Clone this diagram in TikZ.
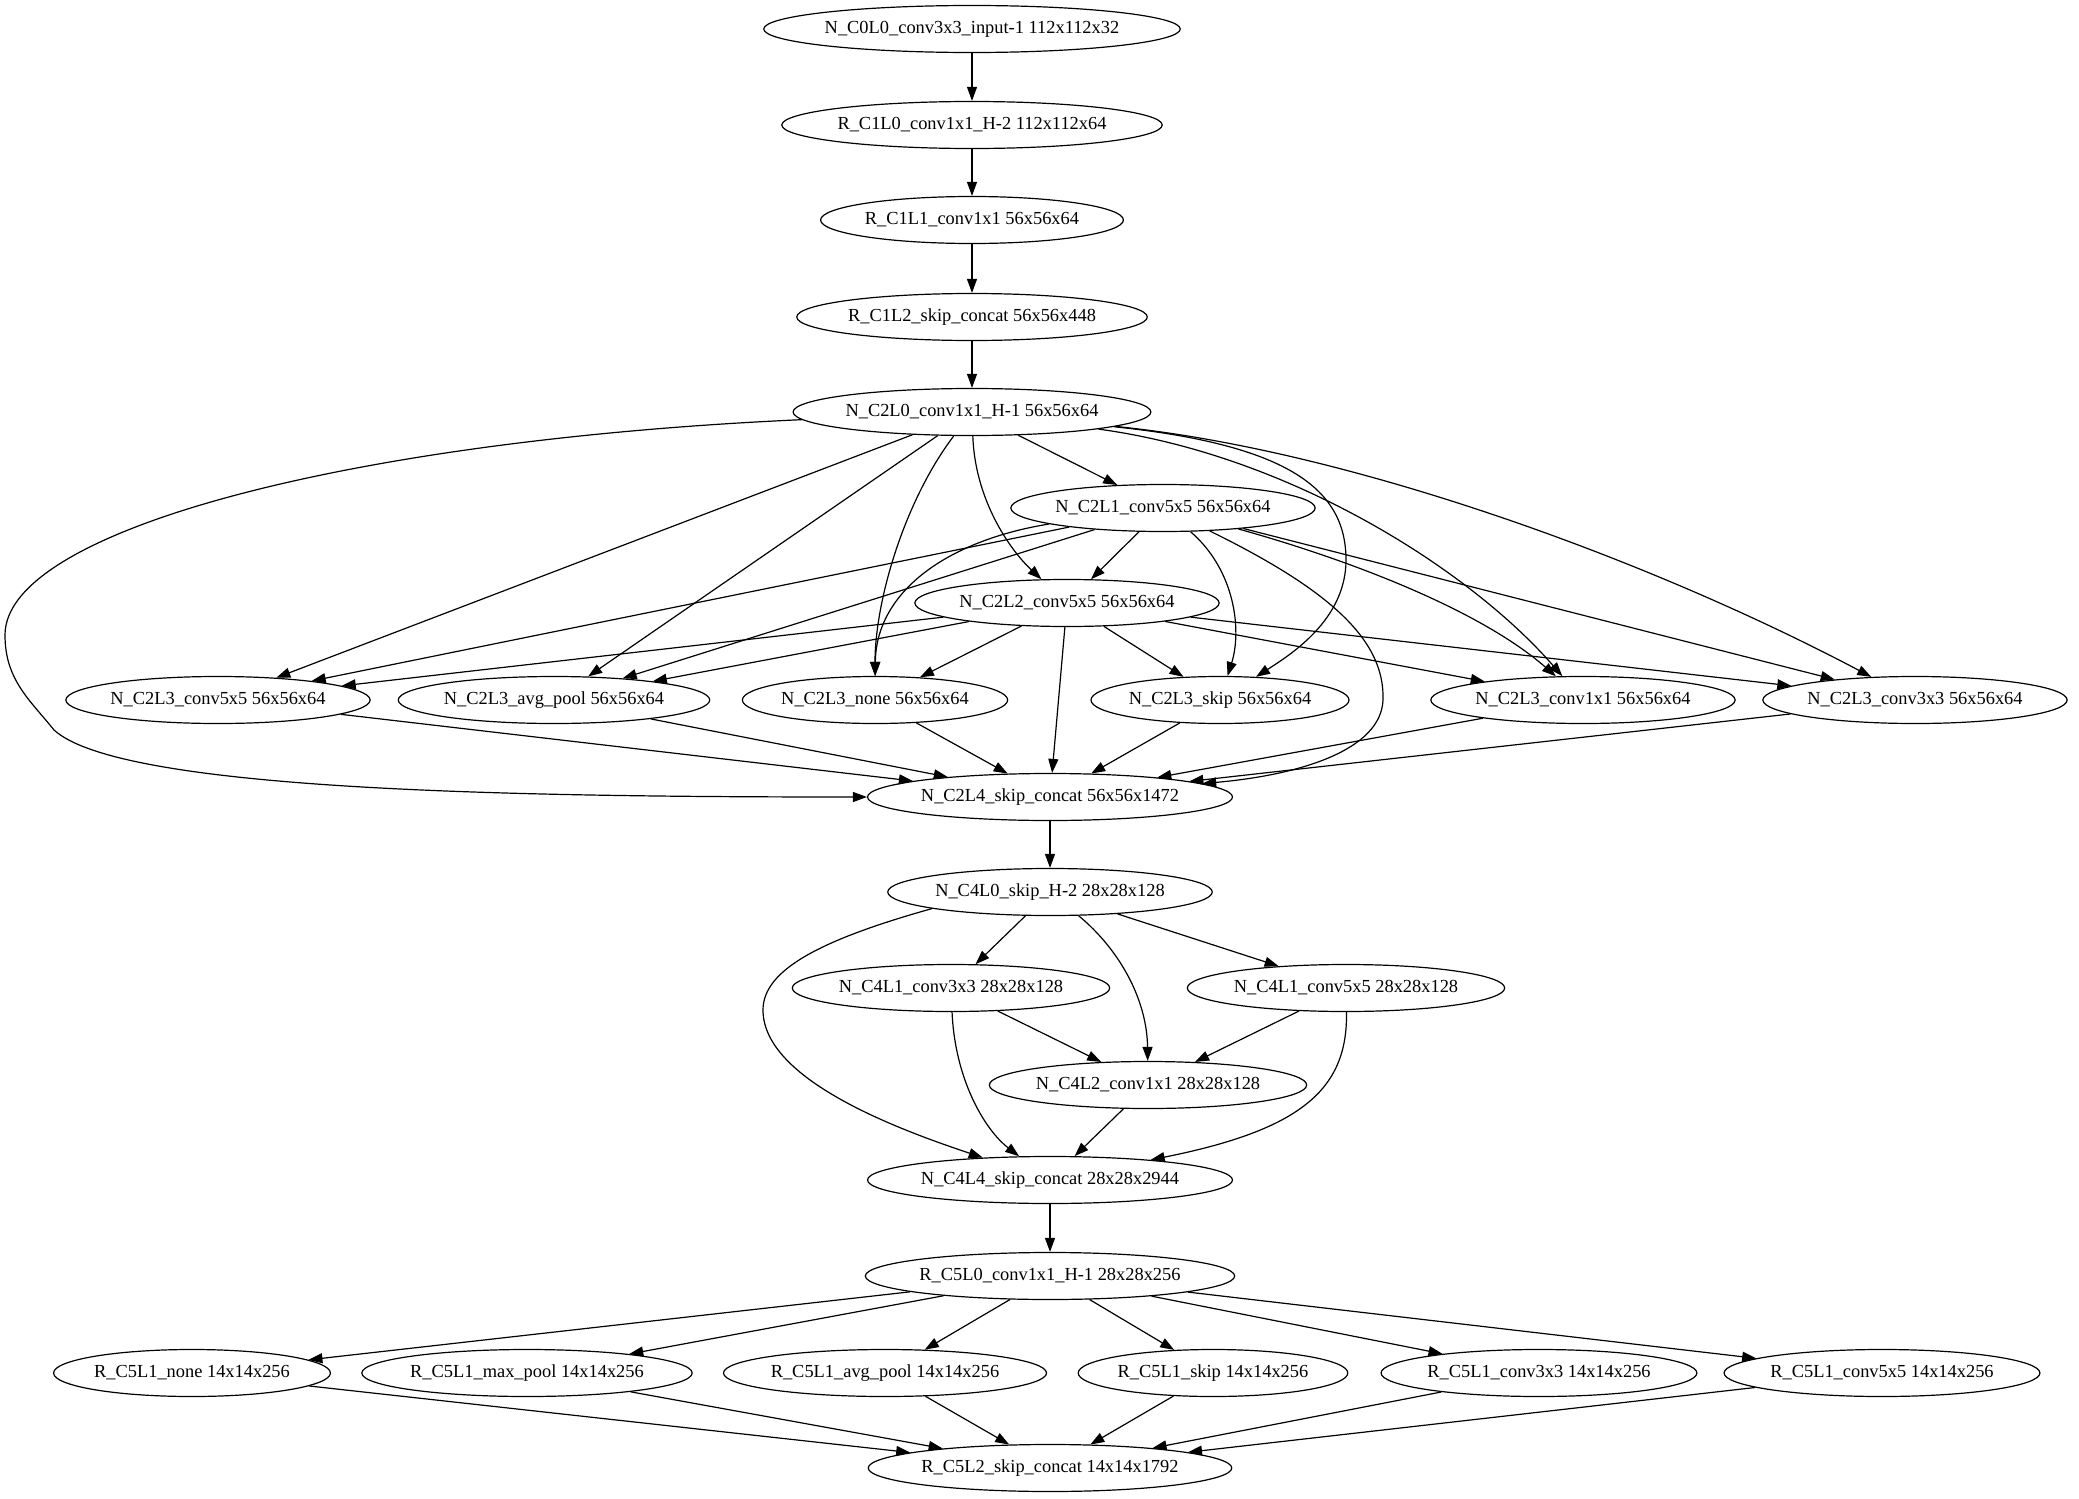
\documentclass[tikz,border=0pt]{standalone}
\usepackage{fontspec}
\setmainfont{Liberation Serif}
\usetikzlibrary{arrows.meta,shapes.geometric}
\tikzset{
  nd/.style={draw, ellipse, line width=0.6pt, inner xsep=0pt, inner ysep=1pt,
             minimum height=23.5pt, font=\fontsize{9.2}{11}\selectfont},
  edge/.style={draw, line width=0.6pt, -{Triangle[length=7pt,width=5pt]}}
}
\begin{document}
\begin{tikzpicture}[x=0.5pt,y=-0.5pt]
\useasboundingbox (0,0) rectangle (2079,1499);
\node[nd] (n1) at (972,29) {N\_C0L0\_conv3x3\_input-1 112x112x32};
\node[nd] (n2) at (972,125) {R\_C1L0\_conv1x1\_H-2 112x112x64};
\node[nd] (n3) at (972,220) {R\_C1L1\_conv1x1 56x56x64};
\node[nd] (n4) at (972,317) {R\_C1L2\_skip\_concat 56x56x448};
\node[nd] (n5) at (972,412) {N\_C2L0\_conv1x1\_H-1 56x56x64};
\node[nd] (n6) at (1163,508) {N\_C2L1\_conv5x5 56x56x64};
\node[nd] (n7) at (1067,603) {N\_C2L2\_conv5x5 56x56x64};
\node[nd] (n8) at (218,700) {N\_C2L3\_conv5x5 56x56x64};
\node[nd] (n9) at (554,700) {N\_C2L3\_avg\_pool 56x56x64};
\node[nd] (n10) at (875,700) {N\_C2L3\_none 56x56x64};
\node[nd] (n11) at (1220,700) {N\_C2L3\_skip 56x56x64};
\node[nd] (n12) at (1583,700) {N\_C2L3\_conv1x1 56x56x64};
\node[nd] (n13) at (1915,700) {N\_C2L3\_conv3x3 56x56x64};
\node[nd] (n14) at (1050,797) {N\_C2L4\_skip\_concat 56x56x1472};
\node[nd] (n15) at (1050,892) {N\_C4L0\_skip\_H-2 28x28x128};
\node[nd] (n16) at (951,988) {N\_C4L1\_conv3x3 28x28x128};
\node[nd] (n17) at (1346,988) {N\_C4L1\_conv5x5 28x28x128};
\node[nd] (n18) at (1148,1085) {N\_C4L2\_conv1x1 28x28x128};
\node[nd] (n19) at (1050,1180) {N\_C4L4\_skip\_concat 28x28x2944};
\node[nd] (n20) at (1050,1276) {R\_C5L0\_conv1x1\_H-1 28x28x256};
\node[nd] (n21) at (192,1373) {R\_C5L1\_none 14x14x256};
\node[nd] (n22) at (527,1373) {R\_C5L1\_max\_pool 14x14x256};
\node[nd] (n23) at (885,1373) {R\_C5L1\_avg\_pool 14x14x256};
\node[nd] (n24) at (1213,1373) {R\_C5L1\_skip 14x14x256};
\node[nd] (n25) at (1539,1373) {R\_C5L1\_conv3x3 14x14x256};
\node[nd] (n26) at (1882,1373) {R\_C5L1\_conv5x5 14x14x256};
\node[nd] (n27) at (1050,1468) {R\_C5L2\_skip\_concat 14x14x1792};

% chain
\draw[edge] (n1) -- (n2);
\draw[edge] (n2) -- (n3);
\draw[edge] (n3) -- (n4);
\draw[edge] (n4) -- (n5);

% from N_C2L0
\draw[edge] (n5) -- (n6);
\draw[edge] (n5) .. controls (975,500) and (1010,550) .. (n7);
\draw[edge] (n5) -- (n8);
\draw[edge] (n5) -- (n9);
\draw[edge] (n5) .. controls (905,500) and (875,600) .. (n10);
\draw[edge] (n5) .. controls (1290,445) and (1346,490) .. (1346,560) .. controls (1346,620) and (1290,655) .. (n11);
\draw[edge] (n5) .. controls (1290,455) and (1470,570) .. (n12);
\draw[edge] (n5) .. controls (1350,450) and (1650,560) .. (n13);
\draw[edge] (n5) .. controls (350,440) and (5,530) .. (5,635) .. controls (5,680) and (30,700) .. (54,730) .. controls (120,790) and (500,797) .. (n14);

% from N_C2L1
\draw[edge] (n6) -- (n7);
\draw[edge] (n6) -- (n8);
\draw[edge] (n6) -- (n9);
\draw[edge] (n6.188) .. controls (950,540) and (876,590) .. (n10);
\draw[edge] (n6) .. controls (1235,570) and (1242,630) .. (n11);
\draw[edge] (n6) .. controls (1350,560) and (1480,610) .. (n12);
\draw[edge] (n6) -- (n13);
\draw[edge] (n6) .. controls (1330,590) and (1385,640) .. (1383,700) .. controls (1381,750) and (1300,775) .. (n14);

% from N_C2L2
\draw[edge] (n7) -- (n8);
\draw[edge] (n7) -- (n9);
\draw[edge] (n7) -- (n10);
\draw[edge] (n7) -- (n11);
\draw[edge] (n7) -- (n12);
\draw[edge] (n7) -- (n13);
\draw[edge] (n7) -- (n14);

% into N_C2L4
\draw[edge] (n8) -- (n14);
\draw[edge] (n9) -- (n14);
\draw[edge] (n10) -- (n14);
\draw[edge] (n11) -- (n14);
\draw[edge] (n12) -- (n14);
\draw[edge] (n13) -- (n14);

\draw[edge] (n14) -- (n15);

% C4 block
\draw[edge] (n15) -- (n16);
\draw[edge] (n15) -- (n17);
\draw[edge] (n15) .. controls (1120,950) and (1147,1000) .. (n18);
\draw[edge] (n15.188) .. controls (820,940) and (763,970) .. (763,1010) .. controls (763,1080) and (900,1130) .. (n19);
\draw[edge] (n16) -- (n18);
\draw[edge] (n16) .. controls (955,1080) and (985,1130) .. (n19);
\draw[edge] (n17) -- (n18);
\draw[edge] (n17) .. controls (1348,1090) and (1300,1130) .. (n19);
\draw[edge] (n18) -- (n19);

\draw[edge] (n19) -- (n20);

% C5 block
\foreach \k in {21,...,26} {
  \draw[edge] (n20) -- (n\k);
  \draw[edge] (n\k) -- (n27);
}
\end{tikzpicture}
\end{document}
